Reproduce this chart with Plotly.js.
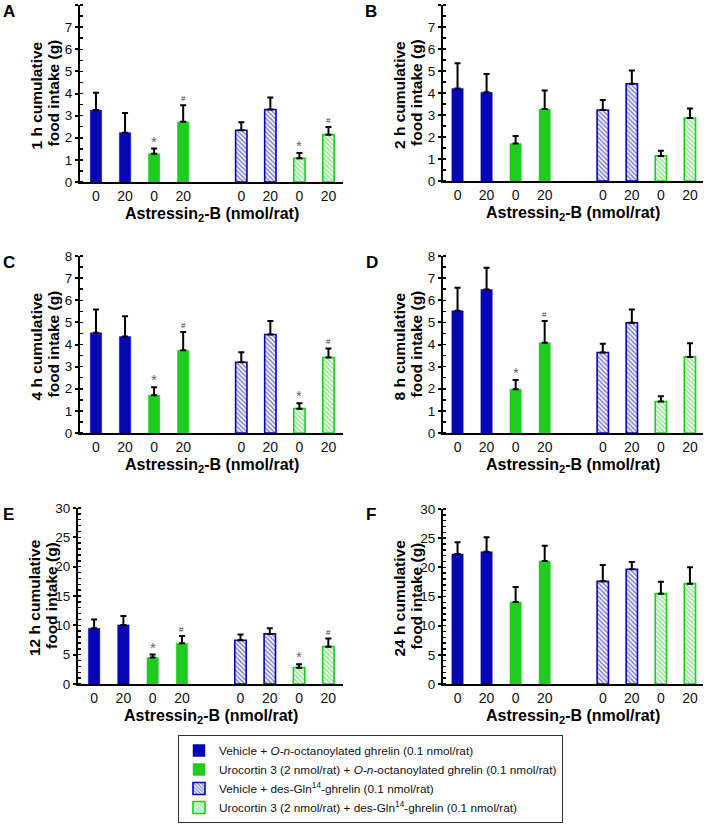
<!DOCTYPE html>
<html>
<head>
<meta charset="utf-8">
<script src="https://cdn.plot.ly/plotly-3.0.1.min.js"></script>
<style>html,body{margin:0;padding:0;background:#fff;}#chart{width:706px;height:824px;}</style>
</head>
<body>
<div id="chart"></div>
<script>
// ---- data ----
const positions = [0, 1, 2, 3, 5, 6, 7, 8];
const tickLabels = ['0', '20', '0', '20', '0', '20', '0', '20'];
const groupNames = [
  'Vehicle + <i>O-n</i>-octanoylated ghrelin (0.1 nmol/rat)',
  'Urocortin 3 (2 nmol/rat) + <i>O-n</i>-octanoylated ghrelin (0.1 nmol/rat)',
  'Vehicle + des-Gln<sup>14</sup>-ghrelin (0.1 nmol/rat)',
  'Urocortin 3 (2 nmol/rat) + des-Gln<sup>14</sup>-ghrelin (0.1 nmol/rat)'
];
const panelLetters = ['A', 'B', 'C', 'D', 'E', 'F'];
const yTitles = ['1 h cumulative', '2 h cumulative', '4 h cumulative', '8 h cumulative', '12 h cumulative', '24 h cumulative'];
const yTitle2 = 'food intake (g)';
const xTitle = 'Astressin<sub>2</sub>-B (nmol/rat)';

const mean1h = [3.25, 2.23, 1.28, 2.72, 2.34, 3.28, 1.07, 2.14];
const sem1h  = [0.78, 0.89, 0.23, 0.75, 0.36, 0.54, 0.24, 0.35];
const sig1h  = ['', '', '*', '#', '', '', '*', '#'];

const mean2h = [4.21, 4.03, 1.70, 3.27, 3.23, 4.42, 1.14, 2.86];
const sem2h  = [1.14, 0.83, 0.35, 0.84, 0.45, 0.60, 0.24, 0.44];
const sig2h  = ['', '', '', '', '', '', '', ''];

const mean4h = [4.53, 4.36, 1.71, 3.74, 3.20, 4.45, 1.10, 3.41];
const sem4h  = [1.05, 0.92, 0.36, 0.82, 0.45, 0.61, 0.24, 0.41];
const sig4h  = ['', '', '*', '#', '', '', '*', '#'];

const mean8h = [5.52, 6.49, 1.98, 4.08, 3.64, 4.98, 1.42, 3.44];
const sem8h  = [1.05, 0.98, 0.42, 0.98, 0.39, 0.60, 0.24, 0.62];
const sig8h  = ['', '', '*', '#', '', '', '', ''];

const mean12h = [9.50, 10.07, 4.50, 6.94, 7.46, 8.54, 2.79, 6.37];
const sem12h  = [1.48, 1.54, 0.51, 1.26, 0.96, 0.96, 0.57, 1.37];
const sig12h  = ['', '', '*', '#', '', '', '*', '#'];

const mean24h = [22.29, 22.69, 14.06, 21.09, 17.60, 19.66, 15.49, 17.20];
const sem24h  = [2.00, 2.45, 2.57, 2.62, 2.80, 1.25, 2.05, 2.80];
const sig24h  = ['', '', '', '', '', '', '', ''];

const yMax = [8, 8, 8, 8, 30, 30];

// ---- layout / style ----
const W = 706, H = 824;
const BLUE = '#0606b4', GREEN = '#20cc20';
const FONT = 'Liberation Sans, Arial, Helvetica, sans-serif';
const px = p => p / W;
const py = p => 1 - p / H;

const means = [mean1h, mean2h, mean4h, mean8h, mean12h, mean24h];
const sems = [sem1h, sem2h, sem4h, sem8h, sem12h, sem24h];
const sigs = [sig1h, sig2h, sig4h, sig8h, sig12h, sig24h];

// pixel boxes for each panel: [left, right, top, bottom]
const boxes = [
  [80, 343, 5, 182], [443, 703, 5, 181],
  [80, 343, 256, 433], [443, 703, 256, 433],
  [78, 343, 508, 684], [443, 703, 509, 684]
];
const letterPos = [[9, 11], [371, 11], [9, 262], [372, 262], [8, 514], [371, 514]];

const groupStyles = [
  {color: BLUE, hatch: false},
  {color: GREEN, hatch: false},
  {color: BLUE, hatch: true},
  {color: GREEN, hatch: true}
];

const traces = [];
const annotations = [];
const layout = {
  width: W, height: H,
  margin: {l: 0, r: 0, t: 0, b: 0},
  paper_bgcolor: '#fff', plot_bgcolor: 'rgba(0,0,0,0)',
  barmode: 'overlay',
  font: {family: FONT, color: '#111', size: 13},
  showlegend: true,
  legend: {
    x: px(178), y: py(735), xanchor: 'left', yanchor: 'top',
    bordercolor: '#333', borderwidth: 1, bgcolor: '#fff',
    font: {family: FONT, size: 11.8, color: '#111'},
    traceorder: 'normal', itemclick: false
  }
};

for (let p = 0; p < 6; p++) {
  const suf = p === 0 ? '' : String(p + 1);
  const [l, r, t, b] = boxes[p];
  for (let g = 0; g < 4; g++) {
    const idx = [2 * g, 2 * g + 1];
    const st = groupStyles[g];
    const marker = st.hatch
      ? {color: '#fff', line: {color: st.color, width: 1.6},
         pattern: {shape: '\\', fgcolor: st.color, bgcolor: '#fff', size: 3.2, solidity: 0.5, fillmode: 'overlay'}}
      : {color: st.color, line: {color: st.color, width: 0.5}};
    traces.push({
      type: 'bar',
      x: idx.map(i => positions[i]),
      y: idx.map(i => means[p][i]),
      width: 0.39,
      name: groupNames[g],
      legendgroup: 'g' + g,
      showlegend: p === 0,
      marker: marker,
      error_y: {type: 'data', symmetric: false, array: idx.map(i => sems[p][i]),
                arrayminus: [0, 0], color: '#000', thickness: 2, width: 3},
      xaxis: 'x' + suf, yaxis: 'y' + suf,
      hoverinfo: 'skip'
    });
  }
  const small = yMax[p] <= 10;
  const xr = p % 2 === 0 ? [-0.55, 8.5] : [-0.5, 8.45];
  layout['xaxis' + suf] = {
    domain: [px(l), px(r)], anchor: 'y' + suf, range: xr,
    showgrid: false, zeroline: false, showline: true, linecolor: '#000', linewidth: 2,
    tickmode: 'array', tickvals: positions, ticktext: tickLabels, ticks: '',
    tickfont: {family: FONT, size: 14, color: '#111'}, fixedrange: true
  };
  layout['yaxis' + suf] = {
    domain: [py(b), py(t)], anchor: 'x' + suf, range: [0, yMax[p]],
    showgrid: false, zeroline: false, showline: true, linecolor: '#000', linewidth: 2,
    dtick: small ? 1 : 5, tick0: 0, ticks: 'outside', ticklen: 3, tickwidth: 2, tickcolor: '#000',
    minor: {dtick: small ? 0.5 : 1, ticks: 'inside', ticklen: 3, tickwidth: 1.5, tickcolor: '#000'},
    tickfont: {family: FONT, size: 13.5, color: '#111'}, fixedrange: true
  };
  // panel letter
  annotations.push({xref: 'paper', yref: 'paper', x: px(letterPos[p][0]), y: py(letterPos[p][1]),
    xanchor: 'center', yanchor: 'middle', showarrow: false,
    text: '<b>' + panelLetters[p] + '</b>', font: {family: FONT, size: 17, color: '#000'}});
  // y title (two lines placed separately for tight line spacing)
  annotations.push({xref: 'paper', yref: 'paper', x: px(l - 44), y: py((t + b) / 2 + 2),
    xanchor: 'center', yanchor: 'middle', showarrow: false, textangle: -90,
    text: '<b>' + yTitles[p] + '</b>', font: {family: FONT, size: 15.5, color: '#000'}});
  annotations.push({xref: 'paper', yref: 'paper', x: px(l - 27), y: py((t + b) / 2),
    xanchor: 'center', yanchor: 'middle', showarrow: false, textangle: -90,
    text: '<b>' + yTitle2 + '</b>', font: {family: FONT, size: 15.5, color: '#000'}});
  // x title
  annotations.push({xref: 'paper', yref: 'paper', x: px((l + r) / 2), y: py(b + 32),
    xanchor: 'center', yanchor: 'middle', showarrow: false,
    text: '<b>' + xTitle + '</b>', font: {family: FONT, size: 16, color: '#000'}});
  // significance marks
  for (let i = 0; i < 8; i++) {
    const s = sigs[p][i];
    if (!s) continue;
    annotations.push({xref: 'x' + suf, yref: 'y' + suf, x: positions[i], y: means[p][i] + sems[p][i],
      xanchor: 'center', yanchor: 'bottom', showarrow: false, text: s,
      yshift: s === '*' ? -3 : 0,
      font: {family: FONT, size: s === '*' ? 15 : 8, color: s === '*' ? '#666' : '#333'}});
  }
}
layout.annotations = annotations;

Plotly.newPlot('chart', traces, layout, {displayModeBar: false, staticPlot: true});
</script>
</body>
</html>
